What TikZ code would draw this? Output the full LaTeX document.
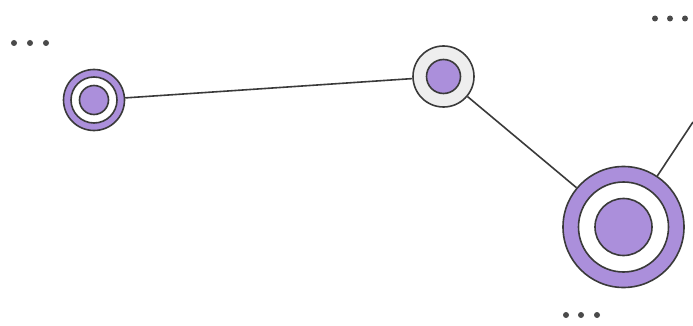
\documentclass[tikz,border=0pt]{standalone}
\usepackage{tikz}
\usetikzlibrary{positioning}

\definecolor{lav}{RGB}{171,143,219}
\definecolor{edge}{RGB}{58,58,58}
\definecolor{pale}{RGB}{238,238,238}
\definecolor{dotc}{RGB}{74,74,74}

\begin{document}
\begin{tikzpicture}[
    x=1pt, y=-1pt,
    ring/.style={circle, draw=edge, line width=1.6pt, inner sep=0pt},
    link/.style={draw=edge, line width=1.6pt},
    dot/.style={circle, fill=dotc, inner sep=0pt, minimum size=6pt}
]
\useasboundingbox (0,0) rectangle (693,326);

% Left node
\node[ring, fill=lav, minimum size=61pt] (left) at (94,100) {};
\node[ring, fill=white, minimum size=46pt] (left-mid) at (left.center) {};
\node[ring, fill=lav, minimum size=29pt] (left-in) at (left.center) {};

% Middle node
\node[ring, fill=pale, minimum size=61pt] (mid) at (443.5,76.5) {};
\node[ring, fill=lav, minimum size=34pt] (mid-in) at (mid.center) {};

% Big node
\node[ring, fill=lav, minimum size=121pt] (big) at (623.5,227) {};
\node[ring, fill=white, minimum size=90pt] (big-mid) at (big.center) {};
\node[ring, fill=lav, minimum size=57pt] (big-in) at (big.center) {};

% Dots
\foreach \x [count=\i] in {14,30,46} {
  \node[dot] (dl\i) at (\x,43) {};
}
\foreach \x [count=\i] in {655,670,685} {
  \node[dot] (dt\i) at (\x,18.5) {};
}
\foreach \x [count=\i] in {566,581,597} {
  \node[dot] (db\i) at (\x,315) {};
}

% Links
\coordinate (off) at (693,122);
\draw[link] (left) -- (mid);
\draw[link] (mid) -- (big);
\draw[link] (big) -- (off);

\end{tikzpicture}
\end{document}
